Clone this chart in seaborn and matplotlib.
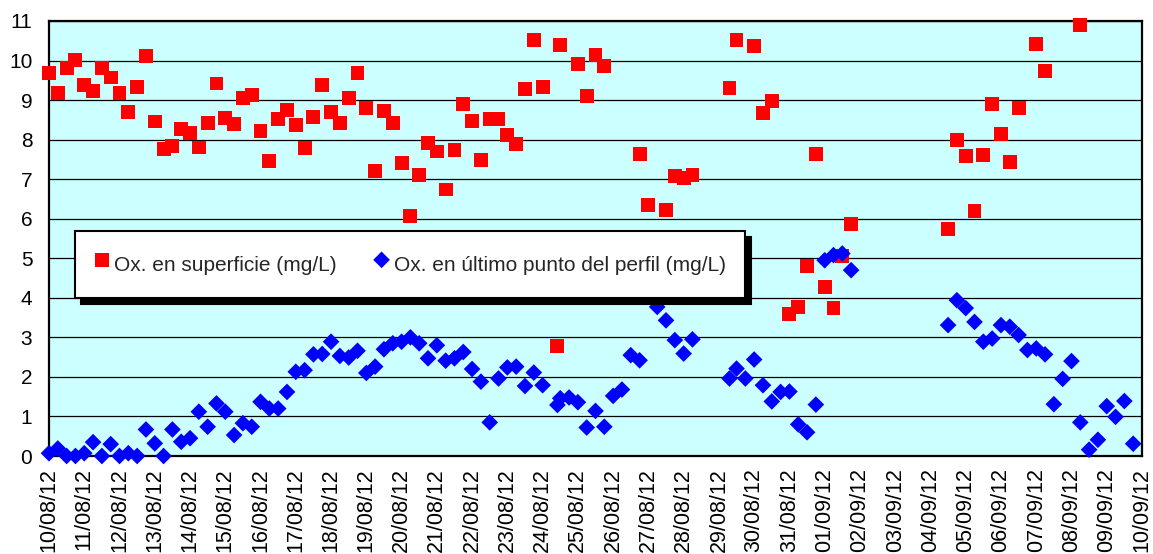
import matplotlib
matplotlib.use("Agg")
import matplotlib.dates as mdates
import matplotlib.pyplot as plt
import pandas as pd
import seaborn as sns

START = pd.Timestamp("2012-08-10")
END = pd.Timestamp("2012-09-10")

serie_sup = "Ox. en superficie (mg/L)"
serie_fondo = "Ox. en último punto del perfil (mg/L)"

# days since 10/08/12 and dissolved oxygen (mg/L)
sup_dias = [0.0, 0.25, 0.5, 0.75, 1.0, 1.25, 1.5, 1.75, 2.0, 2.25, 2.5, 2.75,
            3.0, 3.25, 3.5, 3.75, 4.0, 4.25, 4.5, 4.75, 5.0, 5.25, 5.5, 5.75,
            6.0, 6.25, 6.5, 6.75, 7.0, 7.25, 7.5, 7.75, 8.0, 8.25, 8.5, 8.75,
            9.0, 9.25, 9.5, 9.75, 10.0, 10.25, 10.5, 10.75, 11.0, 11.25, 11.5, 11.75,
            12.0, 12.25, 12.5, 12.75, 13.0, 13.25, 13.5, 13.75, 14.0, 14.42, 14.5,
            15.0, 15.25, 15.5, 15.75, 16.75, 17.0, 17.5, 17.75, 18.0, 18.25,
            19.3, 19.5, 20.0, 20.25, 20.5, 21.0, 21.25, 21.5, 21.75, 22.0, 22.25,
            22.5, 22.75, 25.5, 25.75, 26.0, 26.25, 26.5, 26.75, 27.0, 27.25, 27.5,
            28.0, 28.25, 29.25]
sup_ox = [9.69, 9.18, 9.81, 10.02, 9.39, 9.22, 9.82, 9.57, 9.18, 8.69, 9.33, 10.11,
          8.46, 7.77, 7.83, 8.26, 8.16, 7.80, 8.42, 9.42, 8.54, 8.40, 9.06, 9.12,
          8.21, 7.47, 8.52, 8.75, 8.36, 7.79, 8.57, 9.39, 8.70, 8.42, 9.06, 9.69,
          8.80, 7.20, 8.72, 8.43, 7.40, 6.06, 7.11, 7.91, 7.70, 6.74, 7.73, 8.90,
          8.48, 7.49, 8.52, 8.52, 8.12, 7.90, 9.27, 10.51, 9.34, 2.78, 10.40,
          9.92, 9.10, 10.13, 9.87, 7.64, 6.35, 6.23, 7.09, 7.03, 7.10,
          9.31, 10.52, 10.36, 8.67, 8.97, 3.58, 3.76, 4.80, 7.64, 4.28, 3.75,
          5.06, 5.86, 5.75, 7.99, 7.59, 6.19, 7.61, 8.90, 8.15, 7.43, 8.80,
          10.42, 9.73, 10.89]

fondo_dias = [0.0, 0.25, 0.5, 0.75, 1.0, 1.25, 1.5, 1.75, 2.0, 2.25, 2.5, 2.75,
              3.0, 3.25, 3.5, 3.75, 4.0, 4.25, 4.5, 4.75, 5.0, 5.25, 5.5, 5.75,
              6.0, 6.25, 6.5, 6.75, 7.0, 7.25, 7.5, 7.75, 8.0, 8.25, 8.5, 8.75,
              9.0, 9.25, 9.5, 9.75, 10.0, 10.25, 10.5, 10.75, 11.0, 11.25, 11.5, 11.75,
              12.0, 12.25, 12.5, 12.75, 13.0, 13.25, 13.5, 13.75, 14.0, 14.42, 14.5,
              14.75, 15.0, 15.25, 15.5, 15.75, 16.0, 16.25, 16.5, 16.75, 17.25, 17.5,
              17.75, 18.0, 18.25, 19.3, 19.5, 19.75, 20.0, 20.25, 20.5, 20.75, 21.0,
              21.25, 21.5, 21.75, 22.0, 22.25, 22.5, 22.75, 25.5, 25.75, 26.0, 26.25,
              26.5, 26.75, 27.0, 27.25, 27.5, 27.75, 28.0, 28.25, 28.5, 28.75, 29.0,
              29.25, 29.5, 29.75, 30.0, 30.25, 30.5, 30.75]
fondo_ox = [0.07, 0.19, 0.0, 0.0, 0.07, 0.35, 0.0, 0.30, 0.0, 0.07, 0.0, 0.67,
            0.32, 0.0, 0.67, 0.36, 0.45, 1.12, 0.74, 1.33, 1.12, 0.53, 0.83, 0.74,
            1.37, 1.20, 1.20, 1.62, 2.13, 2.17, 2.57, 2.58, 2.89, 2.53, 2.49, 2.66,
            2.10, 2.26, 2.70, 2.85, 2.89, 3.00, 2.85, 2.47, 2.80, 2.41, 2.47, 2.63,
            2.20, 1.88, 0.85, 1.96, 2.24, 2.26, 1.77, 2.11, 1.79, 1.29, 1.46,
            1.48, 1.36, 0.72, 1.14, 0.74, 1.52, 1.68, 2.55, 2.42, 3.77, 3.43,
            2.93, 2.59, 2.95, 1.96, 2.21, 1.96, 2.44, 1.79, 1.38, 1.62, 1.63,
            0.80, 0.60, 1.30, 4.95, 5.08, 5.12, 4.70, 3.31, 3.94, 3.74, 3.39,
            2.89, 2.97, 3.31, 3.27, 3.06, 2.68, 2.72, 2.57, 1.31, 1.95, 2.40,
            0.85, 0.16, 0.41, 1.26, 0.99, 1.39, 0.31]

df_sup = pd.DataFrame({"fecha": START + pd.to_timedelta(sup_dias, unit="D"), "ox": sup_ox})
df_fondo = pd.DataFrame({"fecha": START + pd.to_timedelta(fondo_dias, unit="D"), "ox": fondo_ox})

sns.set_style("white")
plt.rcParams["font.family"] = ["Liberation Sans", "DejaVu Sans"]

fig = plt.figure(figsize=(11.53, 5.54), dpi=100)
ax = fig.add_axes([49 / 1153, 1 - 456 / 554, 1093 / 1153, 435 / 554])
ax.set_facecolor("#CCFFFF")

sns.scatterplot(data=df_sup, x="fecha", y="ox", marker="s", s=100, color="#FF0000",
                edgecolor="none", linewidth=0, label=serie_sup, ax=ax, zorder=3, clip_on=False)
sns.scatterplot(data=df_fondo, x="fecha", y="ox", marker="D", s=72, color="#0000FF",
                edgecolor="none", linewidth=0, label=serie_fondo, ax=ax, zorder=4, clip_on=False)

ax.set_xlim(START, END)
ax.set_ylim(0, 11)
ax.set_yticks(range(12))
ax.xaxis.set_major_locator(mdates.DayLocator(interval=1))
ax.xaxis.set_major_formatter(mdates.DateFormatter("%d/%m/%y"))
ax.set_axisbelow(True)
ax.yaxis.grid(True, color="black", linewidth=0.9)
ax.xaxis.grid(False)
ax.set_xlabel("")
ax.set_ylabel("")

for s in ax.spines.values():
    s.set_color("black")
    s.set_linewidth(1.6)

ax.tick_params(axis="both", direction="out", length=6, width=1.2, color="black",
               labelcolor="black")
ax.tick_params(axis="y", pad=6, labelsize=15)
ax.tick_params(axis="x", pad=3, labelsize=15.5, labelrotation=90)

leg = ax.legend(loc="center", bbox_to_anchor=(0.33, 0.441), ncol=2, fontsize=15,
                frameon=True, fancybox=False, framealpha=1, edgecolor="black",
                borderpad=0.9, handlelength=0.8, handletextpad=0.2, columnspacing=1.75,
                handleheight=1.8, borderaxespad=0,
                shadow={"color": "black", "alpha": 1, "ox": 4.5, "oy": -4.5})
leg.get_frame().set_linewidth(1.5)
leg.set_zorder(10)

fig.savefig("out.png", dpi=100)
